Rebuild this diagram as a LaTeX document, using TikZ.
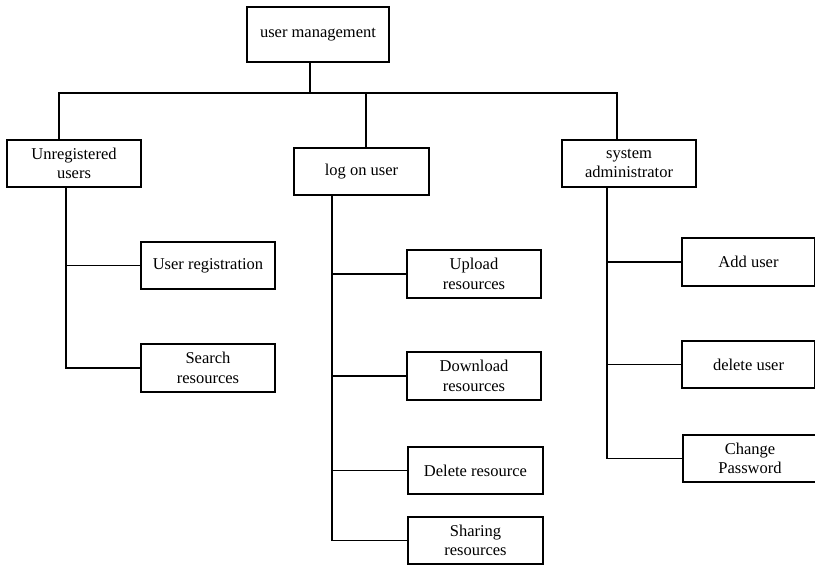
\documentclass[tikz,border=0pt]{standalone}
\usepackage{fontspec}
\setmainfont{Liberation Serif}
\begin{document}
\begin{tikzpicture}[x=1pt,y=-1pt,
  line width=1.3pt,
  lbl/.style={draw, rectangle, inner sep=0pt, align=center,
    font=\fontsize{16.5}{19.5}\selectfont},
  link/.style={draw, line width=1.3pt}]
\useasboundingbox (0,0) rectangle (815,566);
% box helper: name, left, top, right, bottom, text
\newcommand\mybox[6]{%
  \node[lbl, minimum width={#4-#2}, minimum height={#5-#3}]
    (#1) at ({(#2+#4)/2},{(#3+#5)/2}) {#6};}
\mybox{root}{247}{7}{389}{62}{user management}
\mybox{ur}{7}{140}{141}{187}{Unregistered\\users}
\mybox{lu}{294}{148}{429}{195}{log on user}
\mybox{sa}{562}{140}{696}{187}{system\\administrator}
\mybox{reg}{141}{242}{275}{289}{User registration}
\mybox{srch}{141}{344}{275}{392}{Search\\resources}
\mybox{up}{407}{250}{541}{298}{Upload\\resources}
\mybox{down}{407}{352}{541}{400}{Download\\resources}
\mybox{del}{408}{447}{543}{494}{Delete resource}
\mybox{share}{408}{517}{543}{564}{Sharing\\resources}
\mybox{add}{682}{238}{815}{286}{Add user}
\mybox{delu}{682}{341}{815}{388}{delete user}
\mybox{pwd}{683}{435}{817}{482}{Change\\Password}
% junctions
\coordinate (j0) at (310,93);
\coordinate (s1) at (59,93);
\coordinate (s2) at (366,93);
\coordinate (s3) at (617,93);
\coordinate (v1) at (66,0);
\coordinate (v2) at (332,0);
\coordinate (v3) at (607,0);
% top level
\draw[link] (root.south -| j0) -- (j0);
\draw[link] (s1 |- ur.north) -- (s1) -- (s3) -- (s3 |- sa.north);
\draw[link] (s2) -- (s2 |- lu.north);
% unregistered users
\draw[link] (v1 |- ur.south) |- (srch.west);
\draw[link] (v1 |- reg.west) -- (reg.west);
% log on user
\draw[link] (v2 |- lu.south) |- (share.west);
\draw[link] (v2 |- up.west) -- (up.west);
\draw[link] (v2 |- down.west) -- (down.west);
\draw[link] (v2 |- del.west) -- (del.west);
% system administrator
\draw[link] (v3 |- sa.south) |- (pwd.west);
\draw[link] (v3 |- add.west) -- (add.west);
\draw[link] (v3 |- delu.west) -- (delu.west);
\end{tikzpicture}
\end{document}
